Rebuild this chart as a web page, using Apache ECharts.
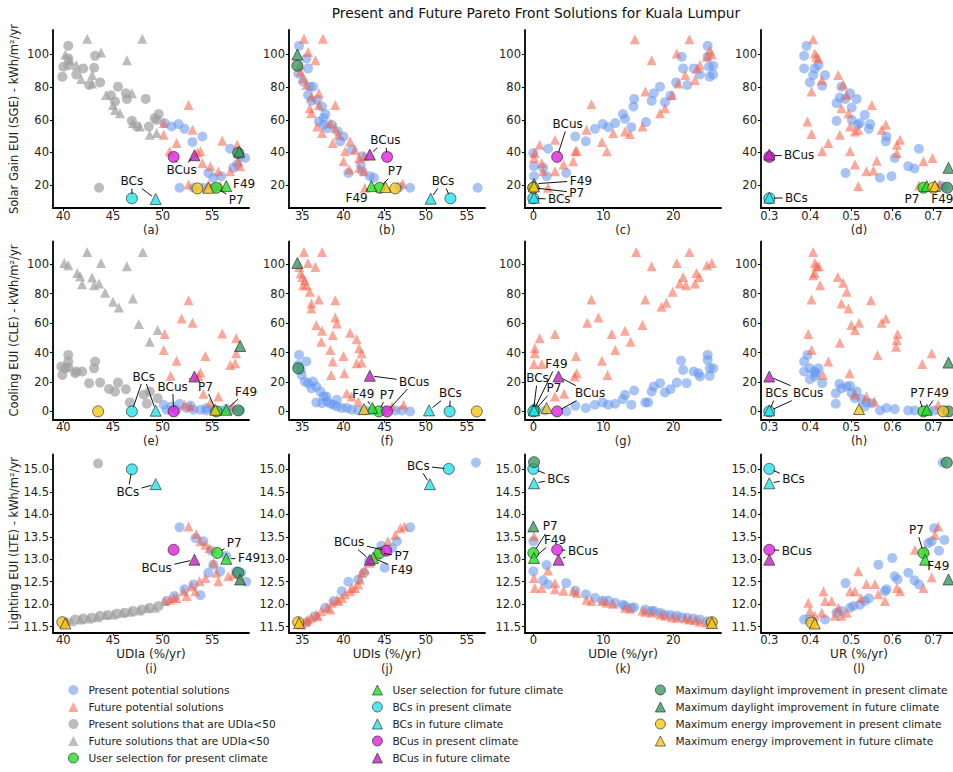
<!DOCTYPE html>
<html><head><meta charset="utf-8">
<script src="https://cdn.jsdelivr.net/npm/echarts@6/dist/echarts.min.js"></script>
<style>html,body{margin:0;padding:0;background:#fff}#c{width:953px;height:772px}</style>
</head><body><div id="c"></div>
<script>
// ---------- tick labels ----------
const ticksUDIa = [40, 45, 50, 55];
const ticksUDIs = [35, 40, 45, 50, 55];
const ticksUDIe = [0, 10, 20];
const ticksUR = [0.3, 0.4, 0.5, 0.6, 0.7];
const ticksSGE = [20, 40, 60, 80, 100];
const ticksCLE = [0, 20, 40, 60, 80, 100];
const ticksLTE = [11.5, 12.0, 12.5, 13.0, 13.5, 14.0, 14.5, 15.0];

// special marks order: userP, userF, bcsP, bcsF, bcusP, bcusF, dayP, dayF, engP, engF
// ---------- (a) UDIa vs SGE ----------
const a_present = [[50.2,58],[50.9,55.9],[51.6,57.4],[52.2,54.5],[53,46.4],[54,49.8],[54.6,27.5],[55.1,24.5],[55.9,25.5],[56.8,42.3],[57.5,32.6],[57.8,37.7],[58.3,36.6],[51.7,18.4],[53.1,18.4],[54.1,18.4],[55.1,18.4],[57.1,30.6]];
const a_future = [[50.1,58],[50.1,50.9],[50.7,40.7],[51.4,45.8],[52.6,69.1],[53,53.9],[53.8,40.7],[54,33.6],[54.8,31.6],[55.6,28.5],[56,47.2],[56.8,28.5],[57.5,44.8],[57.6,34.6],[57.8,31.6],[52.6,20.4],[54.6,20.4],[55.8,19.4],[53.5,40]];
const a_present50 = [[39.9,86.4],[40,92.5],[40.5,105.3],[40.5,97.6],[40.5,93.5],[41.3,87.8],[42,91.5],[42.6,81.3],[43.2,99.2],[43.1,91.9],[43.7,82.9],[43.6,18.4],[45.5,80.3],[45.2,71.2],[46.3,76.2],[46.4,72.8],[46.9,59.4],[47.4,55.9],[48.3,72.8],[48.6,55.9],[49.2,61],[49.6,63.5],[49.4,60],[44.8,75]];
const a_future50 = [[42.4,109.7],[47.95,109.7],[40.2,100],[43.8,101.2],[46.4,96.5],[40.7,96.5],[41.3,93.5],[41.8,85],[42.9,87.4],[42.9,82.3],[44.3,75.2],[45,69.1],[45.2,66],[45.7,64],[46.9,76.2],[47,58],[47.7,55.9],[48.7,50.9],[49.4,51.9]];
const a_marks = [[55.4,18.4],[56.4,19.4],[46.9,11.9],[49.3,11.5],[51.1,37.3],[53.2,38.3],[57.6,39.7],[57.7,40.5],[53.5,18],[54.6,18.4]];
const a_notes = [['BCs',46.9,22.5,[[46.9,11.9],[49.3,11.5]]],['BCus',51.9,29.3,[[51.1,37.3],[53.2,38.3]]],['F49',58.2,20.8,[[56.4,19.4]]],['P7',57.4,10.7,[[55.4,18.4]]]];

// ---------- (b) UDIs vs SGE ----------
const b_present = [[34.6,105.3],[34.5,88.4],[35.5,97.6],[35.1,83.4],[35.7,91.5],[35.9,80.3],[36.3,80.3],[35.7,75.2],[36.1,71.6],[36.8,72.2],[37.4,68.1],[37.8,63.5],[37.6,61],[37,59],[37.6,57],[38,54.9],[38.6,57],[39.3,52.9],[40,49.8],[39.6,46.8],[41,41.7],[40.6,27.5],[42.3,37.7],[42.1,32.6],[43.2,25.5],[43.7,24.5],[46.8,18.8],[48.1,18.4],[56.3,18.4],[42.3,28.5]];
const b_future = [[35.2,109.7],[37.5,109.7],[35.7,101.6],[36.6,96.5],[34.7,93.5],[34.8,89.4],[35.1,85.4],[35.5,81.3],[36.1,74.2],[35.9,67.1],[36.1,64.1],[37,76.2],[37,69.1],[39,69.1],[36.8,55.9],[37.4,51.9],[38.4,58],[39,55],[38.7,45.8],[39.4,50.9],[40.2,40.7],[40,34.6],[40.7,29.5],[40.8,46.8],[41.4,41.7],[41.9,36.6],[41.9,30.6],[42.5,28.5],[42.5,37.7],[42.6,18.4],[47.2,20.8]];
const b_marks = [[44.4,18.4],[43.4,19.4],[53,11.9],[50.6,11.7],[45.3,37.3],[43.2,38.7],[34.4,93.1],[34.4,100],[46.3,18],[45.1,18.8]];
const b_notes = [['BCus',45.1,47.5,[[43.2,38.7],[45.3,37.3]]],['P7',46.3,28.5,[[44.4,18.4]]],['F49',41.6,12.3,[[43.4,19.4]]],['BCs',52.1,22.6,[[50.6,11.7],[53,11.9]]]];

// ---------- (c) UDIe vs SGE ----------
const c_present = [[0.1,31.6],[0.1,25.5],[0,39.7],[1.4,30.6],[1.9,25.5],[2.1,42.3],[4.7,27.5],[6,49.8],[7.5,46.8],[8.8,54.5],[9.9,57.4],[10.7,55.5],[11.7,58],[12.8,63.5],[13.1,60.6],[14,55.5],[14.3,68.1],[14.4,72.8],[16.1,58.6],[16.9,71.6],[17.2,76.2],[18.1,80.3],[18.8,70.8],[19.6,74.8],[20.4,82.9],[21.2,98.6],[21.4,91.5],[22,81.3],[22.9,91.5],[23.8,87.8],[24.9,105.3],[24.9,98.6],[25.1,92.5],[25.2,86.4],[25.7,87.8],[25.7,93.1]];
const c_future = [[0.2,39.7],[0.1,36.6],[0.9,44.8],[1.2,33.6],[1.4,28.5],[2.1,18.4],[3.1,28.5],[3.1,47.8],[4.3,32.6],[5.7,34.6],[6,40.7],[6.2,41.1],[7.6,53.9],[8.3,69.5],[9.8,46.4],[10.5,40.7],[11.4,51.9],[13.1,52.9],[13.8,51.3],[14.5,109.3],[15.6,55.9],[16,77.3],[16.9,96.5],[18.1,64],[18.8,67.1],[19.8,75.2],[20.5,100.6],[20.7,82.3],[21.7,87.4],[22.3,109.3],[23.1,84.4],[23.4,91.5],[23.8,93.5],[24.8,98.6],[25.5,100],[25.2,102.6]];
const c_marks = [[0,18.4],[0.1,20.8],[0,11.9],[0.1,12.3],[3.4,37.3],null,null,null,[0,18.4],[0.1,19.2]];
const c_notes = [['BCus',4.9,57.4,[[3.4,37.3]]],['F49',6.8,22.8,[[0.1,20.8]]],['P7',6.2,15.3,[[0,18.4]]],['BCs',3.7,11.3,[[0,11.9]]]];

// ---------- (d) UR vs SGE ----------
const d_present = [[0.391,105.3],[0.385,99.2],[0.385,91.5],[0.399,82.9],[0.407,87.4],[0.411,91.5],[0.42,93.5],[0.429,80.9],[0.436,87.4],[0.464,70.2],[0.472,73.6],[0.476,80.3],[0.485,72.8],[0.497,76.2],[0.501,67.5],[0.501,60],[0.513,72.8],[0.515,57],[0.521,58],[0.533,63],[0.543,54.5],[0.546,57.4],[0.464,59.4],[0.486,27.5],[0.57,24.5],[0.598,25.5],[0.584,46.8],[0.586,49.8],[0.606,36.6],[0.639,31.6],[0.654,30.2],[0.665,42.3],[0.728,18.8],[0.72,19.5]];
const d_future = [[0.407,109.3],[0.411,100.6],[0.415,98.6],[0.42,97.6],[0.428,84.4],[0.403,77.3],[0.393,59],[0.403,51.3],[0.468,87.4],[0.48,81.7],[0.476,67.1],[0.489,75.2],[0.493,64],[0.497,55.9],[0.509,52.9],[0.517,53.9],[0.472,50.9],[0.444,45.8],[0.429,40.7],[0.497,40.7],[0.509,32.6],[0.517,19.4],[0.537,28.5],[0.554,28.9],[0.55,69.1],[0.562,35],[0.574,53.9],[0.584,57],[0.611,44.8],[0.619,47.8],[0.611,39.7],[0.676,34.6],[0.698,36.6],[0.715,20.4],[0.665,19.8]];
const d_marks = [[0.676,18.4],[0.684,19.4],[0.3,11.9],[0.3,12.3],[0.3,37.3],[0.3,38.7],[0.734,18.4],[0.737,30.6],[0.7,18.4],[0.704,19.4]];
const d_notes = [['BCus',0.373,38.3,[[0.3,38]]],['BCs',0.366,12.3,[[0.3,12]]],['P7',0.648,11.3,[[0.676,18.4]]],['F49',0.722,11.3,[[0.704,19.4]]]];

// ---------- (e) UDIa vs CLE ----------
const e_present = [[50.1,4.5],[50.9,3.4],[51.7,5.2],[52.4,2.3],[53.1,1.1],[53.8,1.1],[54.4,0.7],[55.1,0.7],[55.8,0.7],[56.8,0.7],[57.8,0.7],[50.4,1.1],[51.4,1.1],[54.4,2.3],[56.4,1.6],[52.8,4]];
const e_future = [[50.2,52.6],[50.1,41.8],[50.8,24.2],[51.4,34.5],[51.9,63.2],[52.6,75.6],[53,60.3],[53.8,26.4],[54.3,37.7],[54.1,12],[55.6,10.2],[56,53],[56.8,31.6],[57.3,32.7],[57.4,39.5],[57.4,49.7],[52.2,4.5],[52.8,3.4],[57.1,3.4],[54.8,6],[53.6,24]];
const e_present50 = [[39.8,30.5],[39.9,24.8],[40.2,29.3],[40.5,38.4],[40.5,33.9],[40.5,30],[41.2,26],[41.3,27.1],[41.9,27.1],[42.6,19.2],[43.2,33.9],[43.1,29.3],[43.7,19.6],[44.6,15.3],[45.2,13.5],[45.5,19.6],[46.3,15.1],[46.7,6.1],[48.1,11.3],[48.4,5.2],[48.7,13.5],[49.5,9]];
const e_future50 = [[40.1,100.9],[40.5,99.3],[41.4,94.1],[41.7,91.9],[41.9,86.5],[42.4,108.4],[42.9,91],[43.1,85.8],[43.6,86.9],[43.8,100.9],[44.2,80.6],[45,74.5],[45.6,70.7],[46.4,98.6],[47,76.7],[47.6,59.4],[48,108.4],[48.7,47.4],[49.5,55.3]];
const e_marks = [[55.4,0],[56.4,1.1],[46.9,0],[49.3,0.5],[51.1,0],[53.2,23.7],[57.6,0.7],[57.8,44.5],[43.5,0],[55.3,1.1]];
const e_notes = [['BCs',48.1,23.7,[[46.9,0],[49.3,0.5]]],['BCus',51.0,16.9,[[53.2,23.7],[51.1,0]]],['P7',54.3,16.9,[[55.4,0]]],['F49',58.4,13.5,[[56.4,1.1]]]];

// ---------- (f) UDIs vs CLE ----------
const f_present = [[34.6,38.4],[34.5,31.6],[34.8,28.2],[35.5,33.9],[34.9,24.8],[35.3,20.3],[35.7,19.2],[36.3,20.3],[36.1,15.8],[36.7,16.9],[37.2,13.5],[37.6,10.2],[36.7,6.1],[37.4,5.6],[38,6.8],[38.4,5.2],[38.8,4.5],[39.2,3.4],[39.8,2.3],[40.4,2.3],[41,1.1],[41.8,0.7],[42.6,0.7],[43.5,0.7],[45.1,0.7],[46.3,0.7],[47.1,0.7],[48.1,0],[37.9,10.2],[39.2,7.9]];
const f_future = [[35.2,108.4],[37.4,108.4],[35.7,100.9],[36.6,98.2],[34.6,98.2],[34.8,93.7],[35,91.4],[35.3,89.2],[35.1,85.8],[35.5,85.8],[35.9,81.3],[36.1,73.4],[36.1,70],[37,76.1],[36.7,58.7],[37.4,54.9],[37.3,47.4],[38.4,41.8],[38.7,33.9],[38.5,24.8],[38.7,51.9],[39,63.9],[39.2,59.8],[39,75.6],[40,37.7],[40.1,26],[40.8,53.5],[41.6,49],[41.9,42.9],[42.2,39.5],[41.6,32.7],[42.2,33.2],[40.4,12.4],[41,10.2],[41.8,6.8],[47.3,4.5],[45.9,3.4]];
const f_marks = [[44.3,0],[43.5,2.3],[52.9,0],[50.4,0.7],[45.3,0],[43.2,24.2],[34.5,29.3],[34.4,100.9],[56.2,0],[42.5,1.6]];
const f_notes = [['BCus',48.6,20.3,[[43.2,24.2],[45.3,0]]],['F49',42.4,12,[[43.5,2.3]]],['P7',45.3,11.3,[[44.3,0]]],['BCs',53,12.4,[[50.4,0.7],[52.9,0]]]];

// ---------- (g) UDIe vs CLE ----------
const g_present = [[0.2,2.3],[1.7,0.7],[4.7,0],[6,3.8],[7.5,2.3],[8.8,4.5],[9.9,6.1],[10.7,4.5],[11.7,5.2],[12.8,8.4],[13.1,11.3],[14,4.5],[14.4,14.2],[16,6.1],[16.4,6.1],[16.9,13.5],[17.2,16.9],[18.1,19.2],[18.8,12.9],[19.6,15.1],[20.5,19.6],[21.1,34.5],[21.4,28.2],[21.9,19.2],[22.9,27.1],[23.6,26],[23.8,23.7],[24.9,38.4],[24.9,35],[25.2,29.3],[25.2,24.2],[25.7,29.3]];
const g_future = [[14.7,108.4],[22.3,108.4],[16.9,98.6],[20.5,100.9],[25.5,100.9],[21.4,91.4],[21.8,85.8],[20.9,86.9],[23.3,94.1],[23.7,91.4],[24.8,99.3],[23.1,86.9],[19.9,81.3],[19,73.8],[18.3,71.1],[16,76.1],[15.6,58.7],[13.9,47.4],[13.1,54.9],[11.7,41.8],[11.2,52.6],[10.6,24.8],[9.8,34.5],[9.3,63.9],[8.3,76.1],[7.7,60.3],[6.1,37.7],[6.2,26],[5.9,23.7],[3.1,52.6],[0.9,49.7],[0.2,42.9],[0.2,39.5],[1.2,32.3],[0.1,32.3],[3.1,10.2],[4.4,12]];
const g_marks = [[0.2,0.5],[0.1,1.0],[0,0],[0.1,0.7],[3.4,0],[3.6,23.7],null,null,null,[1.9,2.3]];
const g_notes = [['F49',3.3,32.3,[[0.1,1.0]]],['BCs',0.6,22.6,[[0,0]]],['P7',2.95,15.8,[[0.2,0.5]]],['BCus',8.1,12.4,[[3.6,23.7],[3.4,0]]]];

// ---------- (h) UR vs CLE ----------
const h_present = [[0.393,38.4],[0.385,33.9],[0.385,27.1],[0.399,29.3],[0.41,27.1],[0.415,26],[0.42,29.3],[0.411,23.7],[0.399,21.9],[0.429,19.2],[0.462,12.4],[0.471,18.7],[0.476,15.8],[0.489,16.9],[0.497,17.4],[0.501,12.4],[0.509,9],[0.513,13.5],[0.525,8.4],[0.537,6.1],[0.55,5.6],[0.462,5.2],[0.57,0.7],[0.586,2.3],[0.606,1.6],[0.639,0.7],[0.655,0.7],[0.688,0.7],[0.704,0.7],[0.728,0.7],[0.533,3.4]];
const h_future = [[0.407,108.4],[0.411,100.9],[0.415,98.6],[0.421,98.6],[0.411,94.1],[0.407,92.6],[0.424,85.8],[0.403,76.1],[0.395,52.6],[0.403,41.8],[0.467,91.4],[0.48,87.4],[0.489,81.3],[0.476,73.4],[0.493,70],[0.5,58.7],[0.509,55.3],[0.519,60.3],[0.548,75.6],[0.574,60.3],[0.584,63.2],[0.613,52.6],[0.611,48.5],[0.609,44],[0.564,38.4],[0.472,46.7],[0.444,33.9],[0.431,24.8],[0.496,26],[0.509,11.3],[0.537,10.2],[0.556,6.8],[0.673,32.3],[0.696,39.5],[0.712,4.5]];
const h_marks = [[0.676,0],[0.684,1.1],[0.3,0],[0.3,0.7],null,[0.3,23.7],[0.737,0],[0.737,33.2],[0.724,0],[0.519,1.6]];
const h_notes = [['BCs',0.318,12.4,[[0.3,0]]],['BCus',0.395,12.4,[[0.3,23.7],[0.3,0.3]]],['P7',0.662,12.4,[[0.676,0]]],['F49',0.711,12.4,[[0.684,1.1]]]];

// ---------- (i) UDIa vs LTE ----------
const i_present = [[51.7,13.71],[53.3,13.47],[54.1,13.4],[54.9,13.19],[55.1,12.88],[54.6,12.7],[57.4,12.73],[57.9,12.7],[53.1,12.44],[52.2,12.33],[51.2,12.18],[50.4,12.07],[56.4,13.07],[55.8,12.73],[58.4,12.5],[53.8,12.2]];
const i_future = [[52.6,13.73],[53.4,13.56],[53.8,13.4],[54.3,13.32],[54.7,13.25],[55.1,12.92],[55.4,12.7],[54.3,12.58],[53.7,12.51],[52.9,12.4],[52.1,12.29],[51.1,12.14],[50.2,12.07],[50.7,12.1],[51.4,12.14],[52.4,12.18],[53.3,12.29],[55.6,12.51],[56.6,12.62],[57.1,12.66],[57.8,12.55]];
const i_present50 = [[43.5,15.13],[40.3,11.59],[41.2,11.66],[42,11.68],[42.9,11.7],[43.7,11.74],[44.5,11.76],[45.4,11.79],[46.2,11.81],[47,11.85],[47.9,11.88],[48.7,11.92],[49.6,11.96]];
const i_future50 = [[40.8,11.62],[41.7,11.66],[42.5,11.68],[43.4,11.71],[44.2,11.76],[45,11.77],[45.9,11.81],[46.7,11.83],[47.6,11.86],[48.4,11.91],[49.2,11.92]];
const i_marks = [[55.5,13.14],[56.4,13.01],[46.9,15.0],[49.3,14.67],[51.1,13.21],[53.2,12.99],[57.6,12.7],[57.8,12.55],[39.9,11.6],[40.2,11.57]];
const i_notes = [['BCs',46.5,14.5,[[46.9,15.0],[49.3,14.67]]],['BCus',49.4,12.8,[[53.2,12.99]]],['P7',57.2,13.36,[[55.5,13.14]]],['F49',58.7,13.02,[[56.4,13.01]]]];

// ---------- (j) UDIs vs LTE ----------
const j_present = [[48.1,13.71],[46.5,13.4],[45.9,13.25],[43.1,12.96],[40.6,12.5],[39.8,12.29],[38.8,12.07],[37.8,11.92],[36.5,11.73],[35.5,11.59],[56.1,15.15],[41.8,12.55],[45,12.81],[44.6,13.3],[42.5,12.7]];
const j_future = [[34.9,11.55],[35.5,11.62],[36.1,11.7],[36.7,11.77],[37.3,11.85],[38,11.92],[38.6,12.03],[39.2,12.1],[39.8,12.14],[40.2,12.22],[40.8,12.29],[41.4,12.36],[41.8,12.44],[42,12.55],[42.2,12.7],[42.6,12.77],[43.2,12.92],[44,13.1],[44.6,13.21],[45.4,13.4],[46.3,13.54],[46.9,13.69],[47.4,13.73],[35.7,11.66],[36.9,11.73],[38.4,11.88],[39.4,12.07],[41,12.36]];
const j_marks = [[44.4,13.14],[43.6,13.03],[52.8,15.01],[50.5,14.67],[45.2,13.19],[43.2,12.99],null,null,[34.5,11.6],[34.6,11.58]];
const j_notes = [['BCs',49.1,15.08,[[52.8,15.01],[50.5,14.67]]],['BCus',40.7,13.38,[[45.2,13.19],[43.2,12.99]]],['P7',47.1,13.07,[[44.4,13.14]]],['F49',47.1,12.75,[[43.6,13.03]]]];

// ---------- (k) UDIe vs LTE ----------
const k_present = [[0,12.73],[1.4,12.53],[1.9,12.87],[2.1,12.44],[4.7,12.47],[6,12.3],[7.5,12.22],[8.8,12.14],[9.9,12.08],[10.7,12.08],[11.7,12.03],[12.8,11.99],[13.1,11.96],[14,11.92],[14.4,11.93],[16,11.88],[16.9,11.85],[17.2,11.85],[18.1,11.81],[18.8,11.77],[19.6,11.76],[20.5,11.74],[21.2,11.71],[22,11.7],[22.9,11.68],[23.8,11.66],[24.8,11.62],[25.5,11.61],[0,13.4]];
const k_future = [[0.1,12.58],[0.2,12.36],[1.2,12.36],[2.1,12.75],[3.1,12.47],[3.1,12.33],[4.3,12.3],[5.7,12.29],[6.2,12.25],[7.6,12.1],[8.3,12.07],[9.8,12.07],[10.5,12.03],[11.4,12.01],[13.1,11.92],[13.8,11.9],[15.6,11.86],[16,11.83],[16.9,11.81],[18.1,11.77],[18.8,11.74],[19.8,11.71],[20.5,11.7],[21.7,11.68],[22.3,11.66],[23.1,11.65],[23.8,11.61],[24.8,11.59],[0.1,13.51]];
const k_marks = [[0,13.14],[0.1,13.03],[0,15.01],[0.1,14.69],[3.4,13.21],[3.6,12.99],[0.1,15.16],[0,13.73],[25.5,11.6],[25.5,11.58]];
const k_notes = [['BCs',3.6,14.79,[[0,15.01],[0.1,14.69]]],['P7',2.4,13.73,[[0,13.14]]],['F49',3.1,13.43,[[0.1,13.03]]],['BCus',7.1,13.18,[[3.4,13.21],[3.6,12.99]]]];

// ---------- (l) UR vs LTE ----------
const l_present = [[0.385,11.66],[0.399,11.66],[0.436,11.66],[0.464,11.81],[0.476,11.85],[0.486,12.47],[0.497,11.92],[0.505,11.96],[0.521,11.99],[0.533,12.07],[0.543,12.13],[0.566,12.88],[0.582,12.29],[0.586,12.33],[0.6,13.03],[0.606,12.62],[0.613,12.55],[0.639,12.7],[0.654,12.53],[0.665,12.44],[0.688,13.36],[0.696,13.4],[0.702,13.69],[0.714,13.19],[0.727,13.43],[0.723,15.15]];
const l_future = [[0.395,12.03],[0.399,11.85],[0.411,11.74],[0.432,12.29],[0.436,12.07],[0.452,12.07],[0.468,11.92],[0.476,11.74],[0.489,11.81],[0.497,12.29],[0.509,12.29],[0.517,12.73],[0.524,12.14],[0.537,12.45],[0.558,12.45],[0.566,12.22],[0.582,12.07],[0.611,12.36],[0.619,12.29],[0.676,12.36],[0.696,12.6],[0.704,13.54],[0.712,13.73],[0.655,13.21],[0.68,13.21],[0.428,11.81],[0.46,11.74]];
const l_marks = [[0.676,13.14],[0.68,12.99],[0.3,15.01],[0.3,14.69],[0.3,13.21],[0.3,12.99],[0.733,15.15],[0.737,12.55],[0.403,11.59],[0.411,11.57]];
const l_notes = [['BCs',0.359,14.79,[[0.3,15.01],[0.3,14.69]]],['BCus',0.367,13.18,[[0.3,13.21]]],['P7',0.659,13.66,[[0.676,13.14]]],['F49',0.712,12.84,[[0.68,12.99]]]];

// ---------- labels ----------
const chartTitle = 'Present and Future Pareto Front Solutions for Kuala Lumpur';
const rowTitles = ['Solar Gain EUI (SGE) - kWh/m\u00b2/yr', 'Cooling EUI (CLE) - kWh/m\u00b2/yr', 'Lighting EUI (LTE) - kWh/m\u00b2/yr'];
const colTitles = ['UDIa (%/yr)', 'UDIs (%/yr)', 'UDIe (%/yr)', 'UR (%/yr)'];
const panelLetters = ['(a)','(b)','(c)','(d)','(e)','(f)','(g)','(h)','(i)','(j)','(k)','(l)'];

// ---------- build ----------
const FONT = '"DejaVu Sans", sans-serif';
const cats = [
  {name:'Present potential solutions', symbol:'circle', color:'rgba(100,149,237,0.7)', size:10},
  {name:'Future potential solutions', symbol:'triangle', color:'rgba(248,95,70,0.68)', size:10},
  {name:'Present solutions that are UDIa<50', symbol:'circle', color:'rgba(160,160,160,0.88)', size:10},
  {name:'Future solutions that are UDIa<50', symbol:'triangle', color:'rgba(160,160,160,0.88)', size:10},
  {name:'User selection for present climate', symbol:'circle', color:'#22e022', border:true, size:10},
  {name:'User selection for future climate', symbol:'triangle', color:'#22e022', border:true, size:10},
  {name:'BCs in present climate', symbol:'circle', color:'#25e2e8', border:true, size:10},
  {name:'BCs in future climate', symbol:'triangle', color:'#25e2e8', border:true, size:10},
  {name:'BCus in present climate', symbol:'circle', color:'#e020e0', border:true, size:10},
  {name:'BCus in future climate', symbol:'triangle', color:'#c020c0', border:true, size:10},
  {name:'Maximum daylight improvement in present climate', symbol:'circle', color:'#3a9a62', border:true, size:10},
  {name:'Maximum daylight improvement in future climate', symbol:'triangle', color:'#3a9a62', border:true, size:10},
  {name:'Maximum energy improvement in present climate', symbol:'circle', color:'#f5c518', border:true, size:10},
  {name:'Maximum energy improvement in future climate', symbol:'triangle', color:'#f5c518', border:true, size:10}
];
const panels = [
  [a_present,a_future,a_present50,a_future50,a_marks,a_notes],
  [b_present,b_future,null,null,b_marks,b_notes],
  [c_present,c_future,null,null,c_marks,c_notes],
  [d_present,d_future,null,null,d_marks,d_notes],
  [e_present,e_future,e_present50,e_future50,e_marks,e_notes],
  [f_present,f_future,null,null,f_marks,f_notes],
  [g_present,g_future,null,null,g_marks,g_notes],
  [h_present,h_future,null,null,h_marks,h_notes],
  [i_present,i_future,i_present50,i_future50,i_marks,i_notes],
  [j_present,j_future,null,null,j_marks,j_notes],
  [k_present,k_future,null,null,k_marks,k_notes],
  [l_present,l_future,null,null,l_marks,l_notes]
];

const colLeft = [53, 289, 525, 761], colW = 196;
const rowTop = [30, 241.5, 454.5], rowH = 178;
const colAxis = [
  {min:38.96, max:58.69, ticks:ticksUDIa, fmt:v=>String(v)},
  {min:33.38, max:57.2, ticks:ticksUDIs, fmt:v=>String(v)},
  {min:-1.19, max:26.81, ticks:ticksUDIe, fmt:v=>String(v)},
  {min:0.2798, max:0.7578, ticks:ticksUR, fmt:v=>v.toFixed(1)}
];
const rowAxis = [
  {min:6, max:115, ticks:ticksSGE, fmt:v=>String(v)},
  {min:-5.5, max:115.5, ticks:ticksCLE, fmt:v=>String(v)},
  {min:11.37, max:15.33, ticks:ticksLTE, fmt:v=>v.toFixed(1)}
];

const grids = [], xAxes = [], yAxes = [], series = [], graphics = [];
const axisLineStyle = {color:'#000', width:1.8};
for (let p = 0; p < 12; p++) {
  const r = Math.floor(p/4), c = p % 4;
  grids.push({left:colLeft[c], top:rowTop[r], width:colW, height:rowH, containLabel:false, outerBoundsMode:'none'});
  const cx = colAxis[c], ry = rowAxis[r];
  xAxes.push({type:'value', gridIndex:p, min:cx.min, max:cx.max,
    axisLine:{show:true, onZero:false, lineStyle:axisLineStyle},
    axisTick:{show:true, length:3, customValues:cx.ticks, lineStyle:{color:'#000', width:1}},
    axisLabel:{customValues:cx.ticks, formatter:cx.fmt, fontSize:11.5, lineHeight:11, color:'#222', margin:2, fontFamily:FONT},
    splitLine:{show:false}});
  yAxes.push({type:'value', gridIndex:p, min:ry.min, max:ry.max,
    axisLine:{show:true, onZero:false, lineStyle:axisLineStyle},
    axisTick:{show:true, length:3, customValues:ry.ticks, lineStyle:{color:'#000', width:1}},
    axisLabel:{customValues:ry.ticks, formatter:ry.fmt, fontSize:11.5, color:'#222', margin:4, fontFamily:FONT},
    splitLine:{show:false}});
  const pd = panels[p];
  const lists = [pd[0], pd[1], pd[2], pd[3]];
  for (let k = 0; k < 4; k++) {
    if (!lists[k]) continue;
    const ct = cats[k];
    series.push({type:'scatter', name:ct.name, xAxisIndex:p, yAxisIndex:p, data:lists[k], symbol:ct.symbol,
      symbolSize:ct.size, itemStyle:{color:ct.color}, silent:true, emphasis:{disabled:true}, z:2});
  }
  pd[4].forEach((pt, k) => {
    if (!pt) return;
    const ct = cats[4+k];
    series.push({type:'scatter', name:ct.name, xAxisIndex:p, yAxisIndex:p, data:[pt], symbol:ct.symbol,
      symbolSize:ct.size+1, itemStyle:{color:ct.color, borderColor:'#222', borderWidth:0.8}, silent:true, emphasis:{disabled:true}, z:3});
  });
  const notes = pd[5];
  series.push({type:'custom', coordinateSystem:'cartesian2d', xAxisIndex:p, yAxisIndex:p, silent:true, z:5,
    data: notes.map(n => [n[1], n[2]]),
    renderItem: function (params, api) {
      const n = notes[params.dataIndex];
      const t = api.coord([n[1], n[2]]);
      const hw = n[0].length * 3.9 + 2, hh = 7.5;
      const children = [];
      n[3].forEach(pt => {
        const q = api.coord(pt);
        const dx = q[0]-t[0], dy = q[1]-t[1];
        const len = Math.hypot(dx, dy);
        if (len < 1) return;
        const s = Math.min(Math.abs(dx) > 1e-6 ? hw/Math.abs(dx) : Infinity, Math.abs(dy) > 1e-6 ? hh/Math.abs(dy) : Infinity);
        if (s >= 1) return;
        const ex = q[0]-dx/len*4.5, ey = q[1]-dy/len*4.5;
        children.push({type:'line', shape:{x1:t[0]+dx*s, y1:t[1]+dy*s, x2:ex, y2:ey}, style:{stroke:'#111', lineWidth:1}});
      });
      children.push({type:'text', x:t[0], y:t[1], style:{text:n[0], align:'center', verticalAlign:'middle', textAlign:'center', textVerticalAlign:'middle', font:'12px ' + FONT, fill:'#111'}});
      return {type:'group', children};
    }
  });
  const cxp = colLeft[c] + colW/2;
  const axisY = rowTop[r] + rowH;
  if (r < 2) {
    graphics.push({type:'text', x:cxp, y:axisY + 21.5, style:{text:panelLetters[p], textAlign:'center', textVerticalAlign:'middle', align:'center', verticalAlign:'middle', font:'11.5px ' + FONT, lineHeight:11, fill:'#222'}});
  } else {
    graphics.push({type:'text', x:cxp, y:axisY + 21, style:{text:colTitles[c], textAlign:'center', textVerticalAlign:'middle', align:'center', verticalAlign:'middle', font:'12px ' + FONT, fill:'#222'}});
    graphics.push({type:'text', x:cxp, y:axisY + 36, style:{text:panelLetters[p], textAlign:'center', textVerticalAlign:'middle', align:'center', verticalAlign:'middle', font:'11.5px ' + FONT, fill:'#222'}});
  }
}
rowTitles.forEach((t, r) => {
  graphics.push({type:'text', x:14, y:rowTop[r] + rowH/2, rotation:Math.PI/2, style:{text:t, textAlign:'center', textVerticalAlign:'middle', align:'center', verticalAlign:'middle', font:'11.5px ' + FONT, fill:'#222'}});
});
graphics.push({type:'text', x:536, y:13, style:{text:chartTitle, textAlign:'center', textVerticalAlign:'middle', align:'center', verticalAlign:'middle', font:'13.8px ' + FONT, fill:'#111'}});

const legendCols = [[0,1,2,3,4],[5,6,7,8,9],[10,11,12,13]];
const legendLeft = [68, 372, 655];
const legends = legendCols.map((idx, i) => ({
  orient:'vertical', left:legendLeft[i], top:684, padding:0, itemGap:5, itemWidth:10, itemHeight:10,
  selectedMode:false, data: idx.map(k => cats[k].name),
  itemStyle:{borderWidth:0.8},
  textStyle:{fontSize:10.6, color:'#222', fontFamily:FONT, lineHeight:12, padding:[0,0,0,5]}
}));

const chart = echarts.init(document.getElementById('c'), null, {renderer:'svg'});
chart.setOption({
  animation:false, backgroundColor:'#fff',
  textStyle:{fontFamily:FONT},
  grid:grids, xAxis:xAxes, yAxis:yAxes, series:series, legend:legends, graphic:graphics
});
</script></body></html>
